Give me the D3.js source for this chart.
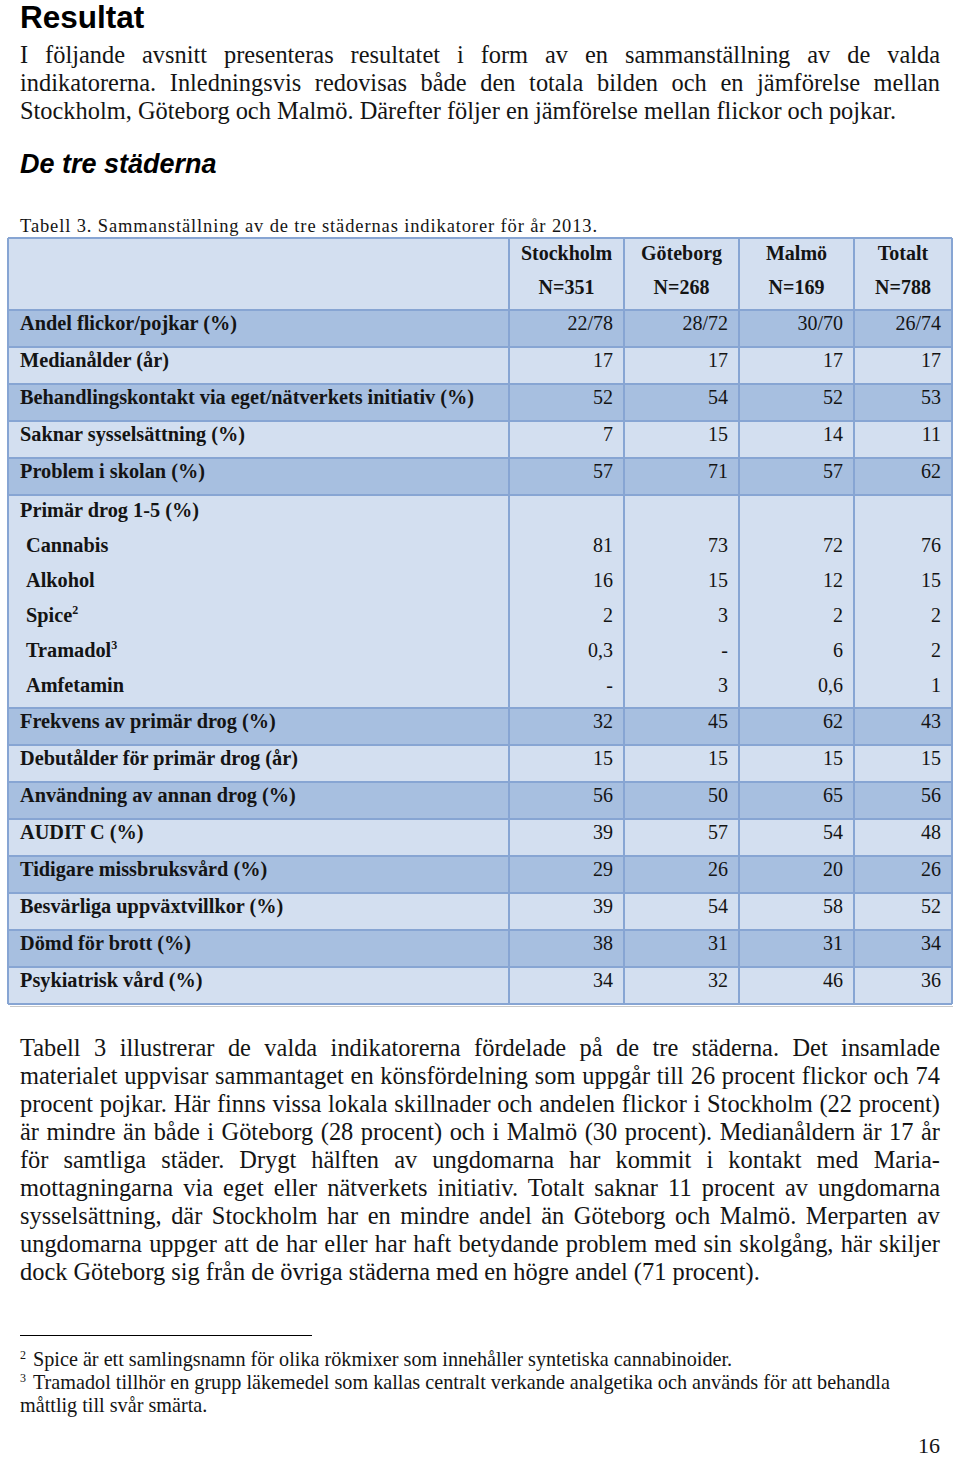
<!DOCTYPE html>
<html>
<head>
<meta charset="utf-8">
<script src="https://cdn.jsdelivr.net/npm/d3@7/dist/d3.min.js"></script>
<style>
html,body{margin:0;padding:0;background:#fff;}
svg{display:block;}
</style>
</head>
<body>
<script>
// ---------- DATA ----------
const cities = ["Stockholm", "Göteborg", "Malmö", "Totalt"];
const nLabels = ["N=351", "N=268", "N=169", "N=788"];

const topIndicators = [
  "Andel flickor/pojkar (%)",
  "Medianålder (år)",
  "Behandlingskontakt via eget/nätverkets initiativ (%)",
  "Saknar sysselsättning (%)",
  "Problem i skolan (%)"
];
const drugGroupLabel = "Primär drog 1-5 (%)";
const drugs = ["Cannabis", "Alkohol", "Spice", "Tramadol", "Amfetamin"];
const drugNotes = ["", "", "2", "3", ""];
const bottomIndicators = [
  "Frekvens av primär drog (%)",
  "Debutålder för primär drog (år)",
  "Användning av annan drog (%)",
  "AUDIT C (%)",
  "Tidigare missbruksvård (%)",
  "Besvärliga uppväxtvillkor (%)",
  "Dömd för brott (%)",
  "Psykiatrisk vård (%)"
];

// values: top 5 indicators, 5 drugs, 8 bottom indicators
const stockholmValues = ["22/78","17","52","7","57", "81","16","2","0,3","-", "32","15","56","39","29","39","38","34"];
const goteborgValues  = ["28/72","17","54","15","71", "73","15","3","-","3", "45","15","50","57","26","54","31","32"];
const malmoValues     = ["30/70","17","52","14","57", "72","12","2","6","0,6", "62","15","65","54","20","58","31","46"];
const totaltValues    = ["26/74","17","53","11","62", "76","15","2","2","1", "43","15","56","48","26","52","34","36"];

const pageTitle = "Resultat";
const introLines = [
  "I följande avsnitt presenteras resultatet i form av en sammanställning av de valda",
  "indikatorerna. Inledningsvis redovisas både den totala bilden och en jämförelse mellan",
  "Stockholm, Göteborg och Malmö. Därefter följer en jämförelse mellan flickor och pojkar."
];
const sectionTitle = "De tre städerna";
const caption = "Tabell 3. Sammanställning av de tre städernas indikatorer för år 2013.";
const bodyLines = [
  "Tabell 3 illustrerar de valda indikatorerna fördelade på de tre städerna. Det insamlade",
  "materialet uppvisar sammantaget en könsfördelning som uppgår till 26 procent flickor och 74",
  "procent pojkar. Här finns vissa lokala skillnader och andelen flickor i Stockholm (22 procent)",
  "är mindre än både i Göteborg (28 procent) och i Malmö (30 procent). Medianåldern är 17 år",
  "för samtliga städer. Drygt hälften av ungdomarna har kommit i kontakt med Maria-",
  "mottagningarna via eget eller nätverkets initiativ. Totalt saknar 11 procent av ungdomarna",
  "sysselsättning, där Stockholm har en mindre andel än Göteborg och Malmö. Merparten av",
  "ungdomarna uppger att de har eller har haft betydande problem med sin skolgång, här skiljer",
  "dock Göteborg sig från de övriga städerna med en högre andel (71 procent)."
];
const footnoteMarks = ["2", "3", ""];
const footnoteLines = [
  "Spice är ett samlingsnamn för olika rökmixer som innehåller syntetiska cannabinoider.",
  "Tramadol tillhör en grupp läkemedel som kallas centralt verkande analgetika och används för att behandla",
  "måttlig till svår smärta."
];
const pageNumber = "16";

// ---------- LAYOUT ----------
const W = 960, H = 1458;
const serif = "'Liberation Serif','Times New Roman',serif";
const sans = "'Liberation Sans',Arial,sans-serif";
const textColor = "#141414";
const darkFill = "#a7bfe0", lightFill = "#d3dff0", borderColor = "#87a5d3";

const svg = d3.select("body").append("svg").attr("width", W).attr("height", H);

// text helper (optional justification via word-spacing)
function line(x, y, txt, opts) {
  const t = svg.append("text")
    .attr("x", x).attr("y", y)
    .attr("font-family", opts.family || serif)
    .attr("font-size", opts.size)
    .attr("font-weight", opts.weight || "normal")
    .attr("font-style", opts.style || "normal")
    .attr("fill", opts.fill || textColor)
    .text(txt);
  if (opts.justifyTo) {
    const nat = t.node().getComputedTextLength();
    const spaces = (txt.match(/ /g) || []).length;
    if (spaces > 0) t.style("word-spacing", ((opts.justifyTo - x - nat) / spaces) + "px");
  }
  if (opts.fitTo) {
    t.attr("textLength", opts.fitTo - x).attr("lengthAdjust", "spacing");
  }
  return t;
}

line(20, 28, pageTitle, {family: sans, size: 31.5, weight: "bold", fill: "#000"});
introLines.forEach((s, i) => {
  line(20, 63 + i * 28, s, {size: 24.4, justifyTo: i < introLines.length - 1 ? 940 : null});
});
line(20, 173, sectionTitle, {family: sans, size: 27, weight: "bold", style: "italic", fill: "#000"});
line(20, 232, caption, {size: 18.5, fitTo: 597});

// ---------- TABLE ----------
const tableLeft = 8, tableRight = 952, tableTop = 238;
const headerH = 72, rowH = 37, drugLineH = 35;

const rows = [];
let yCursor = tableTop;
rows.push({type: "header", y: yCursor, h: headerH}); yCursor += headerH;
topIndicators.forEach((lab, i) => { rows.push({type: "ind", label: lab, vi: i, y: yCursor, h: rowH}); yCursor += rowH; });
const drugBlockH = drugLineH * (drugs.length + 1) + 3;
rows.push({type: "drug", y: yCursor, h: drugBlockH}); yCursor += drugBlockH;
bottomIndicators.forEach((lab, i) => { rows.push({type: "ind", label: lab, vi: topIndicators.length + drugs.length + i, y: yCursor, h: rowH}); yCursor += rowH; });
const tableBottom = yCursor;

const x = d3.scaleBand().domain(cities).range([509, 969]).paddingInner(0).paddingOuter(0);
const colRight = c => Math.min(x(c) + x.bandwidth(), tableRight);
const colCenter = c => (x(c) + colRight(c)) / 2;
const seriesByCity = {
  "Stockholm": stockholmValues, "Göteborg": goteborgValues, "Malmö": malmoValues, "Totalt": totaltValues
};

const tbl = svg.append("g");
tbl.selectAll("rect.row").data(rows).join("rect")
  .attr("class", "row")
  .attr("x", tableLeft).attr("y", d => d.y)
  .attr("width", tableRight - tableLeft).attr("height", d => d.h)
  .attr("fill", (d, i) => (i % 2 === 1) ? darkFill : lightFill);

tbl.selectAll("line.h").data(rows.slice(1).map(r => r.y).concat([tableTop, tableBottom])).join("line")
  .attr("class", "h")
  .attr("x1", tableLeft).attr("x2", tableRight)
  .attr("y1", d => d).attr("y2", d => d)
  .attr("stroke", borderColor).attr("stroke-width", 2);
const vLines = [tableLeft].concat(cities.map(c => x(c))).concat([tableRight]);
tbl.selectAll("line.v").data(vLines).join("line")
  .attr("class", "v")
  .attr("x1", d => d).attr("x2", d => d)
  .attr("y1", tableTop).attr("y2", tableBottom)
  .attr("stroke", borderColor).attr("stroke-width", 2);
svg.append("line").attr("x1", tableLeft + 2).attr("x2", tableRight + 1)
  .attr("y1", tableBottom + 2.5).attr("y2", tableBottom + 2.5)
  .attr("stroke", "#c9c9c9").attr("stroke-width", 1);

cities.forEach((c, i) => {
  line(colCenter(c), tableTop + 22, c, {size: 20, weight: "bold"}).attr("text-anchor", "middle");
  line(colCenter(c), tableTop + 56, nLabels[i], {size: 20, weight: "bold"}).attr("text-anchor", "middle");
});

rows.filter(r => r.type === "ind").forEach(r => {
  line(20, r.y + 20, r.label, {size: 20.3, weight: "bold"});
  cities.forEach(c => {
    line(colRight(c) - 11, r.y + 20, seriesByCity[c][r.vi], {size: 20}).attr("text-anchor", "end");
  });
});

const drugRow = rows.find(r => r.type === "drug");
line(20, drugRow.y + 22, drugGroupLabel, {size: 20.3, weight: "bold"});
drugs.forEach((d, i) => {
  const yy = drugRow.y + 22 + (i + 1) * drugLineH;
  const t = line(26, yy, d, {size: 20.3, weight: "bold"});
  if (drugNotes[i]) {
    t.append("tspan").attr("font-size", 12).attr("dy", -8).text(drugNotes[i]);
  }
  cities.forEach(c => {
    line(colRight(c) - 11, yy, seriesByCity[c][topIndicators.length + i], {size: 20}).attr("text-anchor", "end");
  });
});

// ---------- BODY ----------
bodyLines.forEach((s, i) => {
  line(20, 1056 + i * 28, s, {size: 24.4, justifyTo: i < bodyLines.length - 1 ? 940 : null});
});

svg.append("line").attr("x1", 20).attr("x2", 312).attr("y1", 1335.5).attr("y2", 1335.5)
  .attr("stroke", "#000").attr("stroke-width", 1);
footnoteLines.forEach((s, i) => {
  const yy = 1366 + i * 23;
  if (footnoteMarks[i]) line(20, yy - 7, footnoteMarks[i], {size: 12});
  line(footnoteMarks[i] || i === 0 ? 33 : 20, yy, s, {size: 20.2});
});
line(940, 1453, pageNumber, {size: 22}).attr("text-anchor", "end");
</script>
</body>
</html>
